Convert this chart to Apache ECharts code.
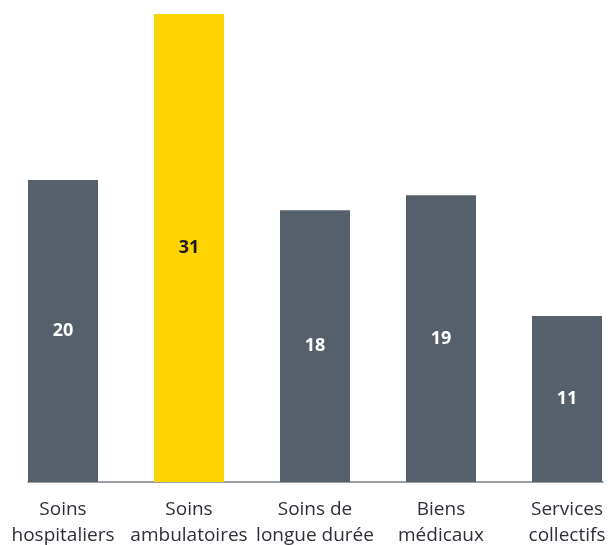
<!DOCTYPE html>
<html><head><meta charset="utf-8">
<script src="https://cdn.jsdelivr.net/npm/echarts@6/dist/echarts.min.js"></script>
<style>html,body{margin:0;padding:0;background:#fff}#c{width:611px;height:545px}</style>
</head><body><div id="c"></div>
<script>
const categories = ['Soins\nhospitaliers', 'Soins\nambulatoires', 'Soins de\nlongue durée', 'Biens\nmédicaux', 'Services\ncollectifs'];
const values = [20, 31, 18, 19, 11];
const highlightIndex = 1;

const GRAY = '#56606b', YELLOW = '#fdd400';
const chart = echarts.init(document.getElementById('c'), null, {renderer: 'canvas'});
const idx = categories.map((_, i) => i);
chart.setOption({
  animation: false,
  grid: {left: 28, right: 8, top: 14, bottom: 63, containLabel: false, outerBoundsMode: 'none'},
  xAxis: {
    type: 'value', min: -35/126, max: 4 + 36/126,
    splitLine: {show: false},
    axisLine: {show: true, onZero: false, lineStyle: {color: '#7c7f86', width: 1.5}},
    axisTick: {show: false},
    axisLabel: {
      customValues: idx,
      formatter: v => categories[Math.round(v)] || '',
      color: '#2e2e38', fontSize: 19, lineHeight: 26, margin: 15,
      fontFamily: 'Open Sans'
    }
  },
  yAxis: {type: 'value', min: 0, max: 31, show: false, splitLine: {show: false}},
  series: [{
    type: 'bar', barWidth: 70,
    data: values.map((v, i) => ({
      value: [i, v],
      itemStyle: {color: i === highlightIndex ? YELLOW : GRAY},
      label: {color: i === highlightIndex ? '#1a1a24' : '#ffffff'}
    })),
    label: {show: true, position: 'inside', fontWeight: 'bold', fontSize: 18,
      fontFamily: 'Open Sans', formatter: p => p.value[1]}
  }]
});
</script></body></html>
